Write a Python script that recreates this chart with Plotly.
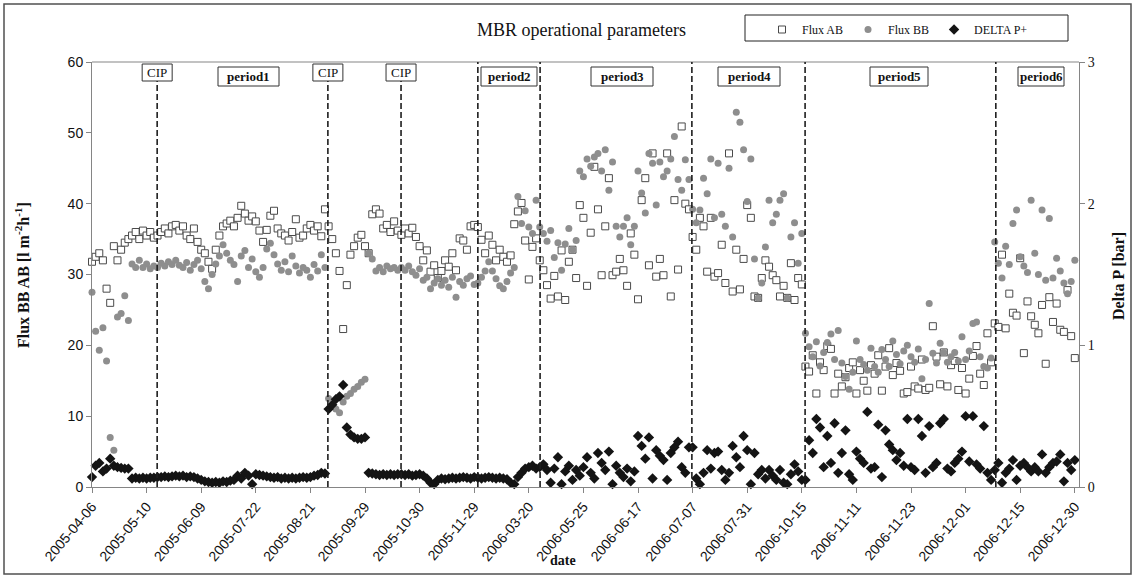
import plotly.graph_objects as go

# ---------------- data ----------------
date_labels = ["2005-04-06", "2005-05-10", "2005-06-09", "2005-07-22", "2005-08-21",
               "2005-09-29", "2005-10-30", "2005-11-29", "2006-03-20", "2006-05-25",
               "2006-06-17", "2006-07-07", "2006-07-31", "2006-10-15", "2006-11-11",
               "2006-11-23", "2006-12-01", "2006-12-15", "2006-12-30"]
points_per_label = 15

flux_ab = [
    31.8, 32.5, 33.0, 32.0, 28.0, 26.0, 34.0, 32.0, 33.5, 34.5, 35.0, 35.5, 36.0, 35.0, 36.2, 35.5, 36.0, 35.2,
    35.5, 36.0, 36.5, 35.8, 36.8, 37.0, 36.2, 36.8, 35.5, 35.0, 36.5, 34.6, 33.5, 33.0, 31.8, 30.8, 33.5, 35.5,
    36.8, 37.2, 37.6, 36.8, 38.0, 39.7, 38.6, 37.6, 38.2, 37.5, 36.2, 34.6, 36.3, 38.3, 39.0, 36.5, 35.8, 35.5,
    34.8, 36.0, 37.8, 35.2, 35.5, 36.5, 37.0, 36.2, 36.8, 35.4, 39.2,
    36.8, 35.0, 33.0, 30.5, 22.3, 28.5, 32.8, 34.0, 35.2, 35.6, 34.0, 33.0, 38.5, 39.2, 38.6, 36.5, 37.0, 36.0, 37.5, 36.2,
    35.6, 36.5, 35.8, 36.6, 35.3, 34.0, 32.0, 33.4, 30.4, 31.3, 29.5, 30.5, 32.0, 31.1, 33.0, 30.6, 35.1, 34.8, 33.5, 36.8, 37.0,
    36.7, 34.9, 33.0, 35.5, 34.2, 32.0, 33.5, 32.5, 31.8, 32.7, 37.1, 38.9, 40.1, 34.8, 29.3, 33.9, 35.1,
    32.0, 30.6, 28.5, 26.6, 29.8, 26.9, 33.4, 26.4, 31.8, 33.5, 29.5, 39.8, 38.0, 28.4, 35.9, 45.2, 39.2, 29.9,
    36.8, 43.6, 29.9, 30.4, 32.2, 30.6, 28.4, 35.8, 32.8, 26.5, 40.5, 43.6, 31.3, 47.1, 29.7, 32.2, 29.9, 47.1,
    26.9, 40.5, 30.7, 50.9, 40.0, 39.2,
    35.3, 33.5, 38.0, 36.8, 30.4, 38.0, 29.7, 30.2, 34.2, 28.8, 47.1, 27.6, 33.5, 27.9, 32.2, 39.8, 38.0, 26.9,
    26.7, 29.5, 32.0, 31.1, 29.9, 29.2, 26.9, 28.4, 26.7, 31.6, 26.4, 29.5, 28.6,
    17.0, 16.3, 18.6, 13.2, 17.6, 16.5, 19.9, 19.5, 13.2, 16.0, 14.2, 15.5, 16.8, 17.6, 13.2, 16.5, 15.0, 13.6,
    17.2, 16.0, 18.6, 13.6, 17.0, 19.6, 15.8, 17.5, 16.4, 13.2, 13.4, 17.0, 14.2, 13.9, 18.0, 13.7, 14.0, 22.7,
    18.4, 14.5, 19.0, 14.2, 17.2, 17.8, 13.7, 16.8, 13.2, 15.3, 18.5, 19.9, 16.0, 14.4, 21.7, 17.6,
    23.1, 22.6, 32.8, 22.4, 27.3, 24.6, 24.2, 32.3, 18.9, 26.2, 24.1, 22.9, 21.7, 25.7, 17.4, 26.8, 23.3, 25.9,
    22.2, 21.9, 27.8, 21.3, 18.2,
]

flux_bb = [
    27.5, 22.0, 19.3, 22.5, 17.8, 7.0, 5.2, 24.0, 24.5, 27.0, 23.5, 31.5, 31.0, 32.0, 31.0, 31.5, 30.8, 31.2,
    31.0, 31.6, 31.2, 31.8, 31.4, 32.0, 31.3, 31.0, 31.7, 30.6, 31.4, 32.0, 30.8, 29.0, 28.0, 30.0, 31.5, 32.6,
    34.2, 33.0, 32.0, 31.4, 29.0, 32.6, 33.4, 31.0, 32.2, 30.4, 29.6, 31.0, 33.6, 34.4, 32.8, 31.5, 30.6, 31.8,
    30.4, 32.6, 31.2, 30.2, 31.0, 30.6, 29.6, 31.4, 30.5, 32.8, 31.0,
    12.5, 11.5, 11.0, 10.5, 12.0, 12.8, 13.2, 13.8, 14.2, 14.8, 15.2, 33.0, 32.2, 30.5, 31.0, 30.4, 31.2, 30.8, 31.0, 30.6,
    31.0, 30.6, 31.2, 30.4, 29.9, 30.8, 29.2, 29.6, 28.0, 28.8, 29.4, 28.5, 29.2, 28.2, 29.6, 26.8, 29.0, 28.5, 29.4, 29.8, 28.6,
    28.8, 29.6, 30.5, 31.8, 30.5, 29.4, 28.4, 28.0, 29.0, 30.2, 31.0, 41.0, 37.2, 39.0, 36.7, 35.8, 40.5,
    36.7, 35.8, 34.7, 36.2, 32.4, 34.5, 30.6, 34.3, 36.5, 33.5, 34.8, 44.6, 43.8, 46.3, 45.3, 46.6, 47.1, 44.6,
    47.6, 41.9, 45.9, 36.8, 35.3, 36.8, 38.0, 34.2, 36.8, 44.6, 41.5, 38.7, 47.1, 45.7, 39.8, 45.9, 43.8, 44.6,
    46.3, 49.5, 43.4, 41.9, 46.2, 43.4,
    39.2, 37.3, 39.1, 43.6, 41.4, 46.3, 38.0, 45.7, 38.5, 36.8, 45.0, 35.3, 52.9, 51.5, 47.6, 40.3, 46.3, 32.2,
    26.7, 28.8, 33.9, 40.5, 37.3, 38.5, 40.5, 41.4, 26.7, 35.3, 37.3, 31.6, 35.8,
    21.7, 19.8, 18.4, 20.5, 17.1, 19.0, 20.4, 21.6, 18.0, 22.1, 17.5, 15.6, 13.8, 16.2, 20.6, 18.0, 17.3, 16.5,
    19.6, 17.0, 16.2, 19.4, 18.0, 17.0, 20.6, 18.7, 17.4, 19.2, 20.0, 18.4, 17.6, 19.5, 15.3, 18.0, 25.9, 18.9,
    17.5, 20.3, 19.0, 17.6, 18.4, 19.0, 17.8, 21.2, 18.0, 19.2, 23.1, 23.3, 18.4, 17.0, 16.8, 18.2,
    34.6, 31.6, 29.5, 34.0, 31.4, 37.2, 39.1, 32.5, 31.2, 30.3, 40.5, 33.0, 30.0, 39.1, 29.2, 37.9, 29.5, 32.3,
    30.5, 28.8, 27.3, 29.0, 32.0,
]

delta_p = [
    0.07, 0.15, 0.17, 0.11, 0.13, 0.20, 0.15, 0.14, 0.135, 0.13, 0.13, 0.06, 0.065, 0.06, 0.065, 0.06, 0.065, 0.065,
    0.07, 0.07, 0.075, 0.07, 0.075, 0.08, 0.075, 0.08, 0.07, 0.075, 0.07,
    0.06, 0.05, 0.04, 0.035, 0.03, 0.035, 0.03, 0.04, 0.035, 0.045, 0.05,
    0.08, 0.06, 0.10, 0.08, 0.02,
    0.09, 0.085, 0.08, 0.075, 0.07, 0.065, 0.07, 0.06, 0.065, 0.06, 0.065, 0.06, 0.065, 0.07, 0.065, 0.07,
    0.08, 0.085, 0.10, 0.095,
    0.55, 0.58, 0.62, 0.64, 0.72, 0.42, 0.37, 0.35, 0.34, 0.34, 0.35, 0.10, 0.095, 0.09, 0.085, 0.09, 0.085, 0.09, 0.085, 0.09,
    0.09, 0.085, 0.09, 0.08, 0.085, 0.09, 0.08, 0.06, 0.03, 0.02, 0.05, 0.06, 0.055, 0.06, 0.065, 0.06, 0.065, 0.07, 0.065, 0.06, 0.07,
    0.065, 0.06, 0.065, 0.07, 0.065, 0.06, 0.065, 0.06, 0.055, 0.03, 0.02, 0.07, 0.10, 0.13, 0.14, 0.15, 0.13,
    0.14, 0.16, 0.12, 0.03, 0.13, 0.21, 0.02, 0.11, 0.15, 0.05, 0.12, 0.08, 0.14, 0.21, 0.10, 0.06, 0.24, 0.17,
    0.12, 0.25, 0.02, 0.15, 0.10, 0.07, 0.13, 0.04, 0.11, 0.36, 0.29, 0.20, 0.35, 0.06, 0.26, 0.22, 0.19, 0.05,
    0.24, 0.28, 0.32, 0.14, 0.10, 0.28,
    0.28, 0.06, 0.02, 0.10, 0.26, 0.13, 0.24, 0.25, 0.12, 0.05, 0.10, 0.29, 0.21, 0.14, 0.36, 0.26, 0.02, 0.24,
    0.09, 0.12, 0.06, 0.12, 0.08, 0.05, 0.12, 0.03, 0.02, 0.09, 0.16, 0.11, 0.05,
    0.05, 0.33, 0.24, 0.48, 0.42, 0.14, 0.36, 0.17, 0.45, 0.10, 0.24, 0.40, 0.09, 0.05, 0.25, 0.20, 0.17, 0.53,
    0.13, 0.14, 0.44, 0.07, 0.40, 0.30, 0.26, 0.19, 0.24, 0.15, 0.48, 0.14, 0.12, 0.48, 0.36, 0.10, 0.43, 0.14,
    0.17, 0.45, 0.48, 0.13, 0.11, 0.17, 0.20, 0.25, 0.50, 0.18, 0.50, 0.16, 0.13, 0.43, 0.10, 0.05,
    0.12, 0.17, 0.03, 0.10, 0.13, 0.19, 0.05, 0.15, 0.17, 0.14, 0.11, 0.14, 0.11, 0.23, 0.10, 0.14, 0.17, 0.18,
    0.23, 0.04, 0.17, 0.12, 0.19,
]

# events on the category axis (position in sample index)
cip_positions = [17.9, 64.8, 84.9]
period_boundaries = [106.0, 123.1, 164.8, 195.9, 248.3]
period_names = ["period1", "period2", "period3", "period4", "period5", "period6"]

# ---------------- figure ----------------
SERIF = "Liberation Serif, Times New Roman, serif"
SANS = "Liberation Sans, Arial, sans-serif"
AXIS_GRAY = "#858585"
STEP_PX = 987.0 / (points_per_label * (len(date_labels) - 1) + 1.15)

x_ab = list(range(len(flux_ab)))
x_bb = list(range(len(flux_bb)))
x_dp = list(range(len(delta_p)))

fig = go.Figure()
fig.add_trace(go.Scatter(
    x=x_ab, y=flux_ab, mode="markers", name="Flux AB", cliponaxis=False,
    marker=dict(symbol="square", size=7, color="white", line=dict(color="#4a4a4a", width=1))))
fig.add_trace(go.Scatter(
    x=x_bb, y=flux_bb, mode="markers", name="Flux BB", cliponaxis=False,
    marker=dict(symbol="circle", size=7, color="#8e8e8e", line=dict(width=0))))
fig.add_trace(go.Scatter(
    x=x_dp, y=delta_p, mode="markers", name="DELTA P+", yaxis="y2", cliponaxis=False,
    marker=dict(symbol="diamond", size=8, color="#141414", line=dict(width=0))))

n_last = points_per_label * (len(date_labels) - 1)
tickvals = [i * points_per_label for i in range(len(date_labels))]

def px_x(px):
    return (px - 92) / 987.0

def px_y(py):
    return (487 - py) / 425.0

shapes = []
annotations = []
# plot area top border
shapes.append(dict(type="line", xref="paper", yref="paper", x0=0, x1=1, y0=1, y1=1,
                   line=dict(color=AXIS_GRAY, width=1)))
# outer chart border
shapes.append(dict(type="rect", xref="paper", yref="paper", x0=px_x(4), x1=px_x(1131),
                   y0=px_y(574), y1=px_y(4), line=dict(color="#505050", width=1.5)))
# legend frame
shapes.append(dict(type="rect", xref="paper", yref="paper", x0=px_x(745), x1=px_x(1068),
                   y0=px_y(41), y1=px_y(15), line=dict(color="#222", width=1),
                   fillcolor="white", layer="below"))
for p in cip_positions:
    shapes.append(dict(type="line", xref="x", yref="paper", x0=p, x1=p, y0=0, y1=px_y(81),
                       line=dict(color="#1e1e1e", width=1.6, dash="6px,3px")))
for p in period_boundaries:
    shapes.append(dict(type="line", xref="x", yref="paper", x0=p, x1=p, y0=0, y1=1,
                       line=dict(color="#1e1e1e", width=1.6, dash="6px,3px")))

# CIP label boxes (centred on the event lines)
for p in cip_positions:
    cx = 92 + p * STEP_PX
    shapes.append(dict(type="rect", xref="paper", yref="paper", x0=px_x(cx - 15), x1=px_x(cx + 15),
                       y0=px_y(81), y1=px_y(64), line=dict(color="#333", width=1), fillcolor="white"))
    annotations.append(dict(x=px_x(cx), y=px_y(72.5), xref="paper", yref="paper", text="CIP",
                            showarrow=False, xanchor="center", yanchor="middle",
                            font=dict(family=SERIF, size=13, color="#111")))

# period label boxes (pixel extents of the text frames)
period_box_px = [(218, 279), (481, 537), (591, 653), (718, 780), (870, 928), (1018, 1064)]
for name, (a, b) in zip(period_names, period_box_px):
    shapes.append(dict(type="rect", xref="paper", yref="paper", x0=px_x(a), x1=px_x(b),
                       y0=px_y(86), y1=px_y(67), line=dict(color="#333", width=1), fillcolor="white"))
    annotations.append(dict(x=px_x((a + b) / 2), y=px_y(76.5), xref="paper", yref="paper",
                            text="<b>%s</b>" % name, showarrow=False, xanchor="center", yanchor="middle",
                            font=dict(family=SERIF, size=13, color="#111")))

annotations.append(dict(x=px_x(581), y=px_y(30), xref="paper", yref="paper",
                        text="MBR operational parameters", xanchor="center", yanchor="middle",
                        showarrow=False, font=dict(family=SERIF, size=18, color="#111")))
annotations.append(dict(x=px_x(563), y=px_y(560), xref="paper", yref="paper", text="<b>date</b>",
                        xanchor="center", yanchor="middle",
                        showarrow=False, font=dict(family=SERIF, size=14, color="#111")))
annotations.append(dict(x=px_x(22), y=px_y(275), xref="paper", yref="paper", textangle=-90,
                        xanchor="center", yanchor="middle",
                        text="<b>Flux BB AB [l m<sup>-2</sup>h<sup>-1</sup>]</b>",
                        showarrow=False, font=dict(family=SERIF, size=16, color="#111")))
annotations.append(dict(x=px_x(1118), y=px_y(276), xref="paper", yref="paper", textangle=-90,
                        xanchor="center", yanchor="middle",
                        text="<b>Delta P [bar]</b>",
                        showarrow=False, font=dict(family=SERIF, size=16, color="#111")))

fig.update_layout(
    width=1135, height=578, autosize=False,
    margin=dict(l=92, r=56, t=62, b=91),
    paper_bgcolor="white", plot_bgcolor="white",
    showlegend=True,
    legend=dict(orientation="h", x=px_x(762), y=px_y(15), xanchor="left", yanchor="top",
                bgcolor="rgba(0,0,0,0)", borderwidth=0,
                font=dict(family=SERIF, size=12, color="#111"),
                itemwidth=30),
    xaxis=dict(range=[0, n_last + 1.15], tickmode="array", tickvals=tickvals, ticktext=date_labels,
               tickangle=-50, tickfont=dict(family=SANS, size=14, color="#111"),
               showline=True, linecolor=AXIS_GRAY, linewidth=1, ticks="outside", ticklen=5,
               tickcolor=AXIS_GRAY, showgrid=False, zeroline=False),
    yaxis=dict(range=[0, 60], dtick=10, tickfont=dict(family=SANS, size=14, color="#111"),
               showline=True, linecolor=AXIS_GRAY, linewidth=1, ticks="outside", ticklen=5,
               tickcolor=AXIS_GRAY, showgrid=False, zeroline=False),
    yaxis2=dict(range=[0, 3], dtick=1, overlaying="y", side="right",
                tickfont=dict(family=SERIF, size=14, color="#111"),
                showline=True, linecolor=AXIS_GRAY, linewidth=1, ticks="outside", ticklen=5,
                tickcolor=AXIS_GRAY, showgrid=False, zeroline=False),
    shapes=shapes, annotations=annotations,
)

fig.write_html("out.html")
